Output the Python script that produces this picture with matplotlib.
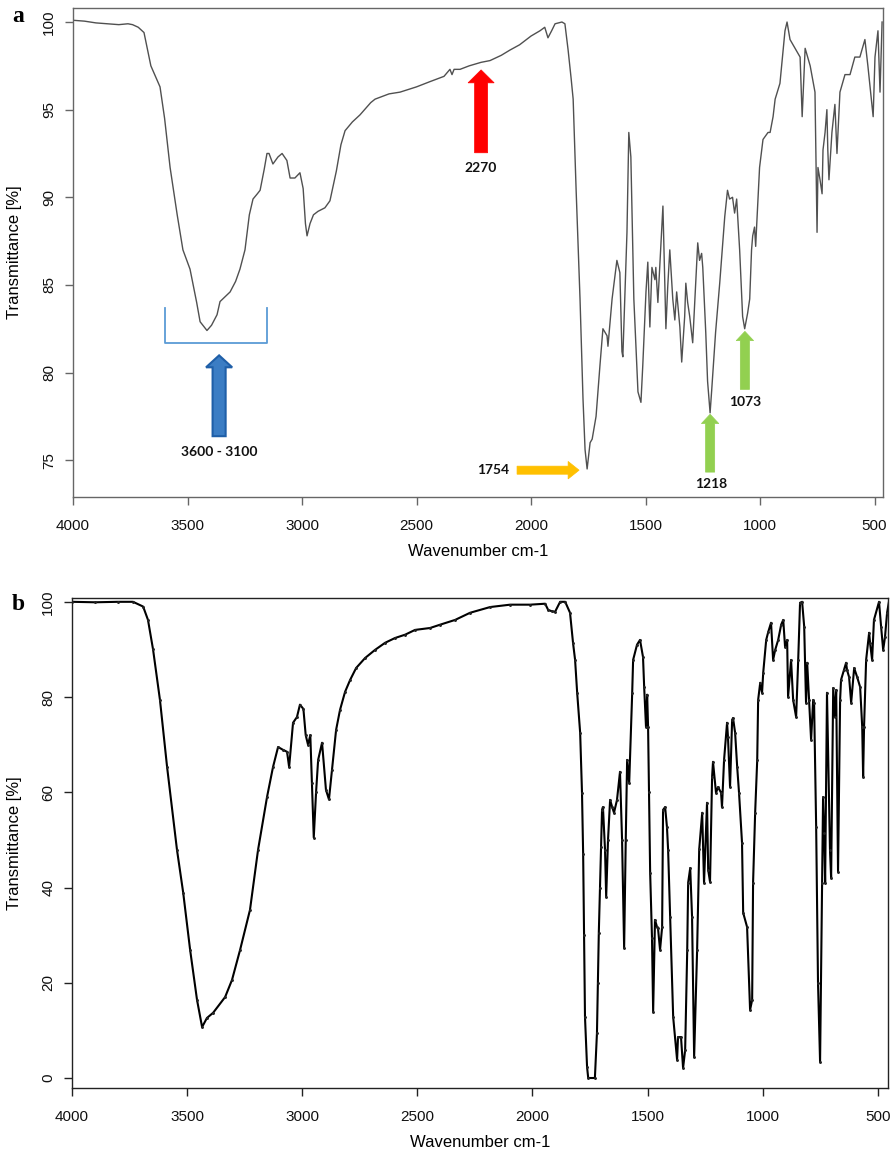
import matplotlib
matplotlib.use("Agg")
import matplotlib.pyplot as plt
from matplotlib.patches import FancyArrow

# ---------------- data ----------------
a_wavenumber = [4000, 3950, 3900, 3850, 3800, 3760, 3740, 3715, 3690, 3660, 3620, 3600, 3576, 3545, 3520,
                3489, 3460, 3445, 3415, 3395, 3371, 3358, 3330, 3314, 3290, 3271, 3249, 3230, 3214, 3195,
                3183, 3165, 3153, 3144, 3127, 3105, 3087, 3066, 3052, 3031, 3009, 2995, 2985, 2978, 2965,
                2950, 2930, 2900, 2878, 2850, 2830, 2812, 2780, 2747, 2700, 2681, 2620, 2572, 2500, 2441,
                2380, 2354, 2345, 2336, 2310, 2270, 2218, 2179, 2130, 2092, 2050, 2000, 1961, 1940, 1926,
                1910, 1895, 1865, 1852, 1838, 1825, 1816, 1803, 1786, 1773, 1764, 1755, 1742, 1733, 1716,
                1699, 1686, 1668, 1664, 1646, 1625, 1612, 1603, 1599, 1581, 1573, 1564, 1551, 1533, 1520,
                1512, 1498, 1490, 1481, 1472, 1459, 1455, 1446, 1433, 1424, 1416, 1411, 1403, 1394, 1381,
                1372, 1364, 1350, 1342, 1329, 1324, 1316, 1307, 1294, 1281, 1272, 1264, 1255, 1250, 1237,
                1229, 1218, 1211, 1194, 1176, 1154, 1142, 1133, 1120, 1111, 1102, 1089, 1076, 1067, 1054,
                1045, 1037, 1032, 1024, 1019, 1015, 1002, 987, 965, 956, 943, 934, 913, 891, 882,
                869, 847, 825, 816, 803, 781, 760, 751, 747, 738, 729, 725, 716, 708, 704,
                699, 686, 673, 664, 651, 629, 607, 586, 564, 542, 529, 506, 498, 485, 476, 467]
a_transmittance = [100.1, 100.05, 99.95, 99.9, 99.85, 99.9, 99.85, 99.7, 99.4, 97.5, 96.3, 94.5, 91.7, 89.0, 87.0,
                   85.9, 84.0, 82.9, 82.4, 82.7, 83.3, 84.05, 84.4, 84.6, 85.2, 85.9, 87.0, 89.0, 89.9, 90.2,
                   90.4, 91.6, 92.5, 92.5, 91.9, 92.3, 92.5, 92.1, 91.1, 91.1, 91.4, 90.5, 88.5, 87.8, 88.5,
                   89.0, 89.2, 89.4, 89.8, 91.5, 93.0, 93.8, 94.3, 94.7, 95.4, 95.6, 95.9, 96.0, 96.3, 96.6,
                   96.9, 97.3, 97.0, 97.3, 97.3, 97.5, 97.7, 97.8, 98.1, 98.4, 98.7, 99.2, 99.5, 99.7, 99.1,
                   99.5, 99.9, 100.0, 99.9, 98.4, 96.8, 95.6, 90.4, 84.2, 78.5, 75.6, 74.5, 76.0, 76.2, 77.5,
                   80.4, 82.5, 82.1, 81.5, 84.2, 86.4, 85.7, 81.2, 80.9, 88.0, 93.7, 92.3, 84.2, 78.9, 78.3,
                   80.4, 84.6, 86.3, 82.6, 86.0, 85.3, 86.0, 84.0, 87.2, 89.5, 85.1, 82.5, 84.9, 87.0, 84.2,
                   83.0, 84.6, 82.6, 80.6, 83.2, 85.1, 84.0, 83.2, 81.7, 85.1, 87.4, 86.4, 86.8, 86.0, 82.3,
                   79.5, 77.7, 79.0, 82.3, 85.1, 88.9, 90.4, 89.9, 90.0, 89.1, 89.9, 87.0, 83.2, 82.5, 83.4,
                   84.2, 87.0, 87.8, 88.3, 87.2, 88.3, 91.7, 93.3, 93.7, 93.7, 94.6, 95.6, 96.5, 99.5, 100.0,
                   99.0, 98.5, 98.0, 94.6, 98.5, 97.5, 96.0, 88.0, 91.7, 91.0, 90.2, 92.7, 93.7, 95.0, 92.7,
                   91.0, 93.7, 95.3, 92.5, 96.0, 97.0, 97.0, 98.0, 98.0, 99.0, 97.5, 94.6, 98.0, 99.5, 96.0, 100.0]

b_wavenumber = [4000, 3900, 3800, 3735, 3691, 3670, 3648, 3618, 3587, 3544, 3517, 3487, 3457, 3435, 3414,
                3387, 3335, 3305, 3270, 3227, 3192, 3153, 3127, 3105, 3083, 3066, 3057, 3040, 3023, 3010,
                2995, 2985, 2975, 2965, 2958, 2950, 2940, 2931, 2914, 2897, 2884, 2871, 2853, 2836, 2814,
                2792, 2766, 2727, 2684, 2640, 2597, 2553, 2510, 2445, 2401, 2336, 2271, 2184, 2097, 2010,
                1945, 1932, 1915, 1902, 1880, 1858, 1837, 1824, 1815, 1806, 1793, 1785, 1780, 1776, 1772,
                1763, 1758, 1729, 1720, 1716, 1712, 1707, 1703, 1698, 1694, 1685, 1680, 1672, 1663, 1654,
                1646, 1633, 1620, 1611, 1602, 1595, 1589, 1580, 1567, 1563, 1546, 1533, 1520, 1515, 1507,
                1502, 1498, 1494, 1489, 1481, 1476, 1468, 1459, 1455, 1446, 1437, 1433, 1424, 1416, 1411,
                1402, 1389, 1372, 1368, 1355, 1346, 1337, 1328, 1324, 1315, 1307, 1298, 1285, 1276, 1263,
                1255, 1242, 1237, 1229, 1220, 1216, 1203, 1194, 1181, 1177, 1168, 1155, 1151, 1142, 1133,
                1129, 1120, 1111, 1103, 1090, 1085, 1068, 1055, 1046, 1042, 1033, 1024, 1020, 1011, 1003,
                998, 985, 976, 964, 955, 946, 933, 920, 911, 903, 894, 890, 877, 868, 855,
                846, 838, 829, 820, 812, 807, 799, 790, 781, 777, 768, 760, 751, 742, 738,
                733, 729, 721, 708, 703, 694, 686, 681, 673, 664, 660, 647, 638, 634, 625,
                616, 603, 590, 577, 568, 564, 560, 551, 538, 534, 525, 517, 495, 486, 477,
                469, 460, 452]
b_transmittance = [100, 99.9, 100, 100, 99.0, 96.2, 90.0, 79.4, 65.3, 47.9, 38.9, 26.9, 16.4, 10.7, 12.6,
                   13.7, 17.0, 20.6, 26.9, 35.3, 47.9, 59.0, 65.3, 69.5, 68.9, 68.5, 65.3, 74.6, 75.8, 78.4,
                   77.5, 72.0, 70.0, 72.0, 62.0, 50.5, 60.0, 66.8, 70.4, 60.5, 58.5, 64.7, 73.1, 77.3, 81.1,
                   83.6, 86.1, 88.2, 89.9, 91.4, 92.4, 93.1, 94.1, 94.5, 95.2, 96.2, 97.7, 98.9, 99.4, 99.4,
                   99.6, 98.3, 98.0, 97.9, 100, 100, 97.7, 91.4, 87.8, 80.9, 72.5, 59.9, 47.0, 30.0, 12.8,
                   2.3, 0, 0, 9.5, 20.0, 30.5, 40.0, 48.5, 56.3, 56.9, 47.9, 38.0, 50.0, 58.4, 56.9,
                   55.7, 58.4, 64.3, 50.0, 27.3, 50.0, 66.8, 62.0, 80.9, 87.8, 91.0, 92.0, 88.4, 82.1, 73.7,
                   80.5, 73.7, 60.0, 43.1, 29.4, 13.9, 33.2, 31.7, 31.5, 26.9, 31.7, 56.3, 56.9, 52.7, 47.9,
                   33.8, 12.8, 3.8, 8.6, 8.6, 2.1, 5.9, 26.9, 41.0, 44.1, 33.8, 4.4, 26.9, 48.0, 55.7,
                   41.0, 57.8, 43.7, 41.2, 63.2, 66.4, 59.9, 61.1, 59.9, 56.9, 66.8, 74.6, 71.6, 61.1, 75.2,
                   75.6, 72.5, 65.3, 59.9, 49.4, 34.7, 31.7, 14.3, 16.4, 41.0, 55.7, 66.8, 79.4, 83.0, 80.9,
                   85.1, 92.0, 93.7, 95.6, 87.8, 89.9, 92.0, 95.2, 96.2, 90.5, 92.0, 80.0, 87.8, 79.4, 75.8,
                   87.8, 99.8, 100, 94.8, 78.8, 87.2, 79.4, 71.0, 79.4, 78.8, 52.7, 20.0, 3.4, 41.0, 59.0,
                   51.5, 41.0, 80.9, 47.9, 42.0, 81.9, 75.8, 81.5, 43.3, 79.4, 83.6, 85.7, 87.2, 85.7, 84.2,
                   78.8, 86.1, 84.2, 82.1, 73.7, 63.2, 73.7, 87.8, 93.5, 91.4, 87.8, 96.2, 100, 94.8, 89.9,
                   92.6, 97.7, 100]

x_ticks = [4000, 3500, 3000, 2500, 2000, 1500, 1000, 500]
a_y_ticks = [75, 80, 85, 90, 95, 100]
b_y_ticks = [0, 20, 40, 60, 80, 100]

# annotation labels (panel a)
band_labels = ["3600 - 3100", "2270", "1754", "1218", "1073"]

# ---------------- figure ----------------
plt.rcParams['font.family'] = ['Liberation Sans', 'DejaVu Sans']
fig = plt.figure(figsize=(8.93, 11.5), dpi=100)

axA = fig.add_axes([73/893, 1-497/1150, 810/893, 489/1150])
axB = fig.add_axes([72/893, 1-1088/1150, 816/893, 490/1150])

axA.plot(a_wavenumber, a_transmittance, color='#505050', lw=1.0)
axB.plot(b_wavenumber, b_transmittance, color='black', lw=1.5,
         marker='.', ms=2.2, mfc='#222222', mec='#222222')

axA.set_xlim(4000, 463)
axA.set_ylim(72.9, 100.8)
axB.set_xlim(4000, 456)
axB.set_ylim(-2.1, 100.8)

for ax, yt, col in ((axA, a_y_ticks, '#666666'), (axB, b_y_ticks, '#222222')):
    ax.set_xticks(x_ticks)
    ax.set_yticks(yt)
    ax.set_yticklabels([str(v) for v in yt], rotation=90, va='center')
    ax.tick_params(axis='both', direction='out', length=6, width=1.0, color=col,
                   labelsize=11, labelcolor='#111111', pad=6)
    ax.tick_params(axis='x', pad=10)
    for s in ax.spines.values():
        s.set_color(col)
        s.set_linewidth(1.0)
    ax.set_xlabel('Wavenumber cm-1', fontsize=12, labelpad=8)

fig.text(15/893, 1-252/1150, 'Transmittance [%]', rotation=90, ha='center', va='center', fontsize=12)
fig.text(15/893, 1-843/1150, 'Transmittance [%]', rotation=90, ha='center', va='center', fontsize=12)

fig.text(12/893, 1-17/1150, 'a', family='Liberation Serif', fontweight='bold', fontsize=17,
         ha='left', va='center')
fig.text(12/893, 1-604/1150, 'b', family='Liberation Serif', fontweight='bold', fontsize=17,
         ha='left', va='center')

# ---------------- annotations on panel a ----------------
ann_font = dict(family=['Lato', 'DejaVu Sans'], fontweight='bold', fontsize=10, color='#111111')

# bracket
axA.plot([3600, 3600, 3153, 3153], [83.7, 81.66, 81.66, 83.7], color='#5b9bd5', lw=1.3)
# blue arrow
axA.add_patch(FancyArrow(3362, 76.37, 0, 80.98 - 76.37, width=57, head_width=114, head_length=0.68,
                         length_includes_head=True, fc='#3b7dc4', ec='#1f5fa8', lw=1.5))
axA.text(3362, 75.45, band_labels[0], ha='center', va='center', **ann_font)
# red arrow
axA.add_patch(FancyArrow(2218, 92.54, 0, 97.27 - 92.54, width=57, head_width=114, head_length=0.74,
                         length_includes_head=True, fc='#ff0000', ec='#ff0000', lw=0.5))
axA.text(2218, 91.69, band_labels[1], ha='center', va='center', **ann_font)
# orange arrow
axA.add_patch(FancyArrow(2061, 74.43, 1790 - 2061, 0, width=0.46, head_width=1.0, head_length=48,
                         length_includes_head=True, fc='#ffc000', ec='#ffc000', lw=0.5))
axA.text(2166, 74.43, band_labels[2], ha='center', va='center', **ann_font)
# green arrows
axA.add_patch(FancyArrow(1218, 74.32, 0, 77.62 - 74.32, width=40, head_width=76, head_length=0.53,
                         length_includes_head=True, fc='#92d050', ec='#92d050', lw=0.5))
axA.text(1213, 73.63, band_labels[3], ha='center', va='center', **ann_font)
axA.add_patch(FancyArrow(1066, 79.04, 0, 82.35 - 79.04, width=40, head_width=76, head_length=0.53,
                         length_includes_head=True, fc='#92d050', ec='#92d050', lw=0.5))
axA.text(1066, 78.3, band_labels[4], ha='center', va='center', **ann_font)

fig.savefig('out.png', dpi=100)
